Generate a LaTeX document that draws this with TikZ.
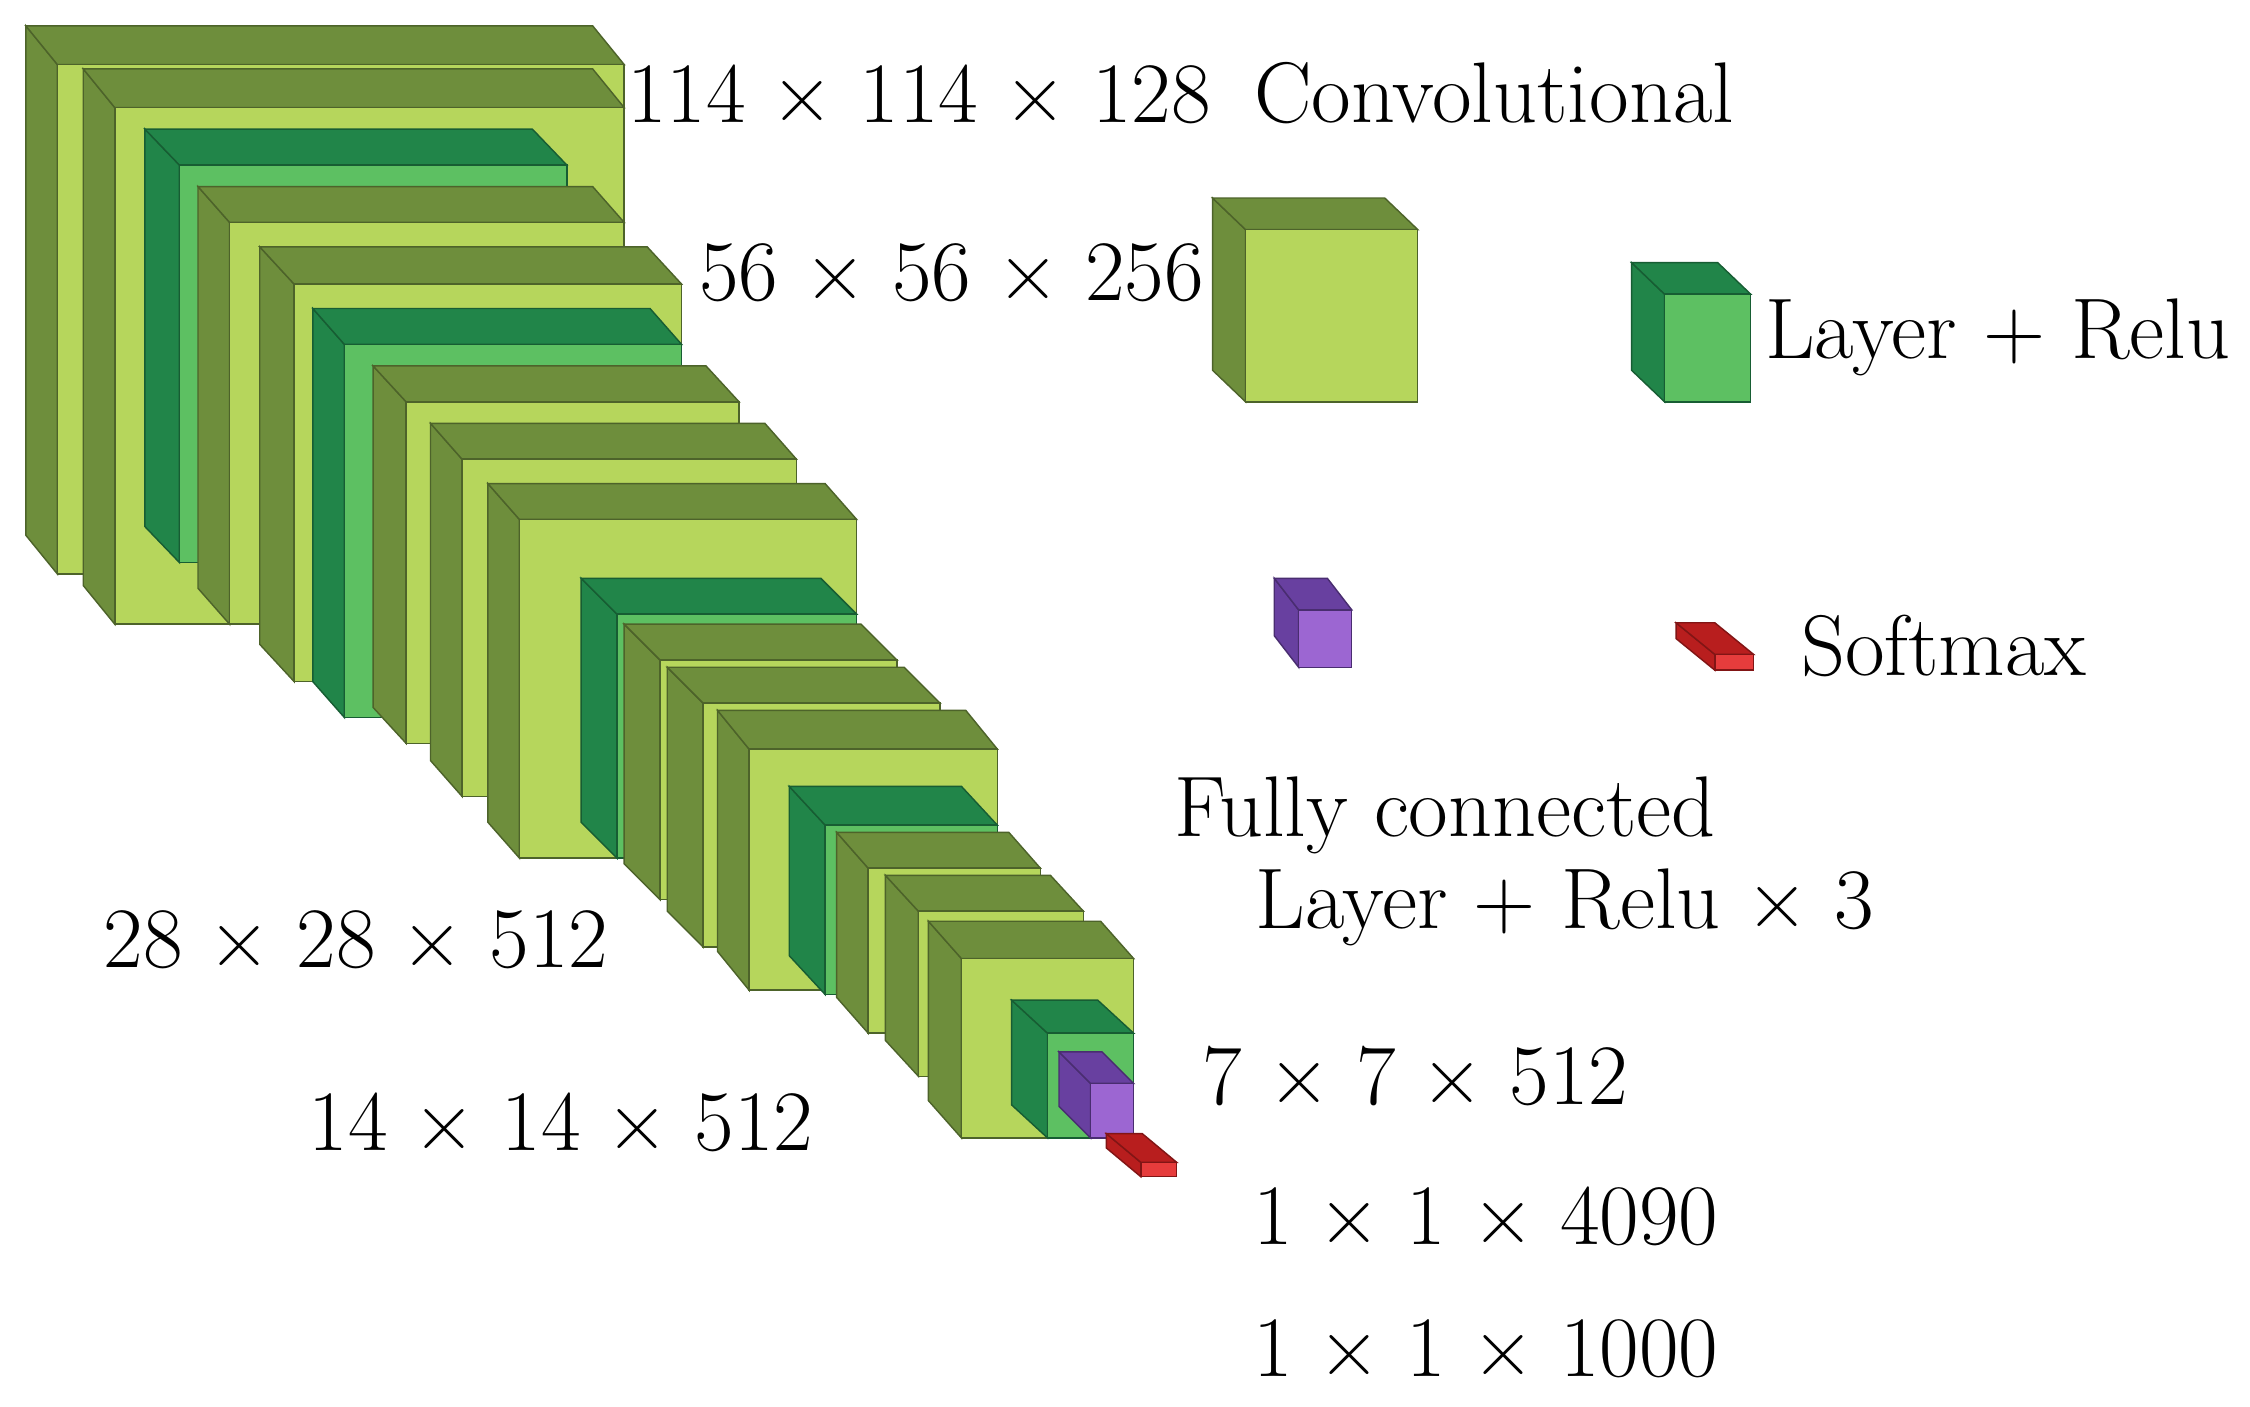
\documentclass[tikz,border=0pt]{standalone}
\begin{document}
\definecolor{cD}{HTML}{6E8E3C}\definecolor{cL}{HTML}{B6D65C}
\definecolor{rD}{HTML}{218549}\definecolor{rL}{HTML}{5DC062}
\definecolor{pD}{HTML}{6840A0}\definecolor{pL}{HTML}{9C66D2}
\definecolor{sD}{HTML}{B81E1E}\definecolor{sL}{HTML}{E63C3C}
\newcommand\slab[8]{%
 \filldraw[fill=#7,draw=#7!70!black,line width=1pt] (#1,#2)--(#1-#5,#2-#6)--(#1-#5,#4-#6)--(#1,#4)--cycle;
 \filldraw[fill=#7,draw=#7!70!black,line width=1pt] (#1,#2)--(#1-#5,#2-#6)--(#3-#5,#2-#6)--(#3,#2)--cycle;
 \filldraw[fill=#8,draw=#7!70!black,line width=1pt] (#1,#2) rectangle (#3,#4);}
\begin{tikzpicture}[x=1pt,y=-1pt,lab/.style={anchor=west,inner sep=0pt,font=\fontsize{60}{64}\selectfont}]
\useasboundingbox (0,0) rectangle (1568,980);
\fill[white] (0,0) rectangle (1568,980);
\slab{40}{45}{435}{400}{22}{27}{cD}{cL}
\slab{80}{75}{435}{435}{22}{27}{cD}{cL}
\slab{125}{115}{395}{392}{24}{25}{rD}{rL}
\slab{160}{155}{435}{435}{22}{25}{cD}{cL}
\slab{205}{198}{475}{475}{24}{26}{cD}{cL}
\slab{240}{240}{475}{500}{22}{25}{rD}{rL}
\slab{283}{280}{515}{518}{23}{25}{cD}{cL}
\slab{322}{320}{555}{555}{22}{25}{cD}{cL}
\slab{362}{362}{597}{598}{22}{25}{cD}{cL}
\slab{430}{428}{597}{598}{25}{25}{rD}{rL}
\slab{460}{460}{625}{627}{25}{25}{cD}{cL}
\slab{490}{490}{655}{660}{25}{25}{cD}{cL}
\slab{522}{522}{695}{690}{22}{27}{cD}{cL}
\slab{575}{575}{695}{693}{25}{27}{rD}{rL}
\slab{605}{605}{725}{720}{22}{25}{cD}{cL}
\slab{640}{635}{755}{750}{23}{25}{cD}{cL}
\slab{670}{668}{790}{793}{23}{26}{cD}{cL}
\slab{730}{720}{790}{793}{25}{23}{rD}{rL}
\slab{760}{755}{790}{793}{22}{22}{pD}{pL}
\slab{795}{810}{820}{820}{24}{20}{sD}{sL}
% legend
\slab{868}{160}{988}{280}{23}{22}{cD}{cL}
\slab{1160}{205}{1220}{280}{23}{22}{rD}{rL}
\slab{905}{425}{942}{465}{17}{22}{pD}{pL}
\slab{1195}{456}{1222}{467}{27}{22}{sD}{sL}
% labels
\node[lab] (t1) at (437,65) {114 × 114 × 128\enspace Convolutional};
\node[lab] (t2) at (487,190) {56 × 56 × 256};
\node[lab] (t3) at (1230,235) {Layer + Relu};
\node[lab] (t4) at (1255,450) {Softmax};
\node[lab] (t5) at (818,568) {Fully connected};
\node[lab] (t6) at (875,632) {Layer + Relu × 3};
\node[lab] (t7) at (72,655) {28 × 28 × 512};
\node[lab] (t8) at (838,750) {7 × 7 × 512};
\node[lab] (t9) at (215,782) {14 × 14 × 512};
\node[lab] (t10) at (873,848) {1 × 1 × 4090};
\node[lab] (t11) at (873,940) {1 × 1 × 1000};
\end{tikzpicture}
\end{document}
